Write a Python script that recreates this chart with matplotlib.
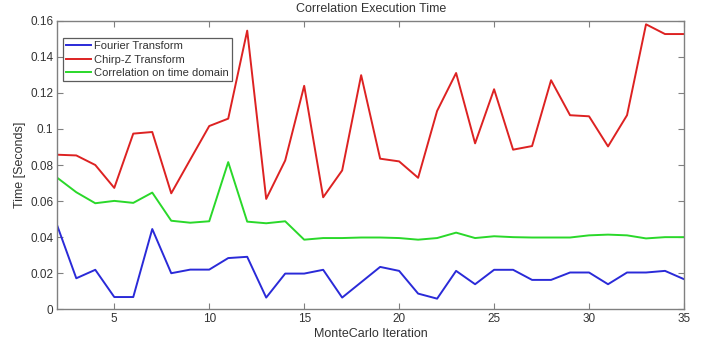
import matplotlib
matplotlib.use("Agg")
import matplotlib.pyplot as plt

plt.rcParams['font.family'] = ['Liberation Sans', 'DejaVu Sans']

iterations = list(range(2, 36))
fourier = [0.0463, 0.0172, 0.0219, 0.0068, 0.0068, 0.0445, 0.0200, 0.0220, 0.0220,
           0.0284, 0.0291, 0.0065, 0.0198, 0.0198, 0.0219, 0.0065, 0.0150, 0.0235,
           0.0213, 0.0087, 0.0059, 0.0213, 0.0139, 0.0219, 0.0219, 0.0163, 0.0163,
           0.0204, 0.0204, 0.0139, 0.0204, 0.0204, 0.0213, 0.0167]
chirpz = [0.0857, 0.0853, 0.0800, 0.0673, 0.0974, 0.0983, 0.0643, 0.0830, 0.1016,
          0.1057, 0.1545, 0.0612, 0.0825, 0.1239, 0.0621, 0.0770, 0.1298, 0.0835,
          0.0820, 0.0729, 0.1100, 0.1310, 0.0920, 0.1220, 0.0885, 0.0905, 0.1270,
          0.1076, 0.1070, 0.0903, 0.1076, 0.1580, 0.1526, 0.1526]
timedomain = [0.0729, 0.0649, 0.0588, 0.0601, 0.0590, 0.0647, 0.0491, 0.0480, 0.0488,
              0.0816, 0.0486, 0.0477, 0.0488, 0.0386, 0.0395, 0.0395, 0.0398, 0.0398,
              0.0395, 0.0386, 0.0395, 0.0425, 0.0395, 0.0405, 0.0400, 0.0398, 0.0398,
              0.0398, 0.0410, 0.0414, 0.0410, 0.0393, 0.0400, 0.0400]
series_names = ["Fourier Transform", "Chirp-Z Transform", "Correlation on time domain"]
xticks = [5, 10, 15, 20, 25, 30, 35]
yticks = [0, 0.02, 0.04, 0.06, 0.08, 0.1, 0.12, 0.14, 0.16]
ytick_labels = ["0", "0.02", "0.04", "0.06", "0.08", "0.1", "0.12", "0.14", "0.16"]

fig = plt.figure(figsize=(7.09, 3.40), dpi=100)
ax = fig.add_axes([57.3 / 709, 1 - 309.3 / 340, (684 - 57.3) / 709, (309.3 - 20.7) / 340])

ax.plot(iterations, fourier, color='#2a2ad8', lw=1.4, label=series_names[0])
ax.plot(iterations, chirpz, color='#dd2222', lw=1.4, label=series_names[1])
ax.plot(iterations, timedomain, color='#2ad82a', lw=1.4, label=series_names[2])

ax.set_xlim(2, 35)
ax.set_ylim(0, 0.16)
ax.set_xticks(xticks)
ax.set_yticks(yticks)
ax.set_yticklabels(ytick_labels)

gray = '#808080'
txt = '#333333'
for s in ax.spines.values():
    s.set_color(gray)
    s.set_linewidth(1.0)
ax.tick_params(direction='in', length=4, width=0.8, colors=gray, labelcolor=txt,
               labelsize=8.5, top=True, right=True, pad=3)

ax.set_title("Correlation Execution Time", fontsize=9, color=txt, pad=6)
ax.set_xlabel("MonteCarlo Iteration", fontsize=9, color=txt, labelpad=2)
ax.set_ylabel("Time [Seconds]", fontsize=9, color=txt, labelpad=3)

leg = ax.legend(loc='upper left', bbox_to_anchor=(0.0091, 0.940), fontsize=8,
                frameon=True, fancybox=False, borderpad=0.3, labelspacing=0.3,
                handlelength=2.2, handletextpad=0.3, borderaxespad=0.0)
leg.get_frame().set_edgecolor(txt)
leg.get_frame().set_linewidth(0.9)
for t in leg.get_texts():
    t.set_color(txt)

fig.savefig("out.png", dpi=100)
